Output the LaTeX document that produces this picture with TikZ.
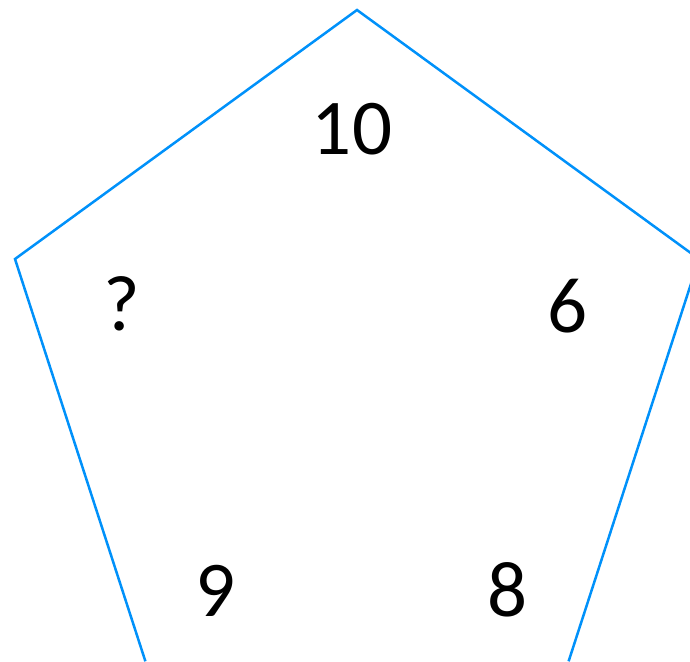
\documentclass[tikz,border=0pt]{standalone}
\usepackage{fontspec}
\setmainfont{Carlito}
\usepackage{xcolor}
\usepackage{tikz}
\definecolor{edgeblue}{RGB}{0,145,250}

\begin{document}
\begin{tikzpicture}[
				x=1pt, y=-1pt,
				side/.style={draw=edgeblue, line width=2.5pt, line join=miter},
				num/.style={anchor=base, inner sep=0pt, font=\fontsize{79}{79}\selectfont, text=black}
				]
				
				%% frame and clipping
				\useasboundingbox (0,0) rectangle (690,661);
				\clip (0,0) rectangle (690,661);
				
				%% pentagon corners
				\coordinate (top) at (357,10);
				\coordinate (left) at (15,259);
				\coordinate (right) at (699,259);
				\coordinate (botl) at (145.4,661.3);
				\coordinate (botr) at (568.6,661.3);
				
				\draw[side] (botl) -- (left) -- (top) -- (right) -- (botr);
				
				%% numbers
				\node[num] (ntop) at (352,154) {10};
				\node[num] (nleft) at (122,330) {?};
				\node[num] (nright) at (568,332) {6};
				\node[num] (nbotl) at (216,616) {9};
				\node[num] (nbotr) at (508,616) {8};
				
\end{tikzpicture}
\end{document}
